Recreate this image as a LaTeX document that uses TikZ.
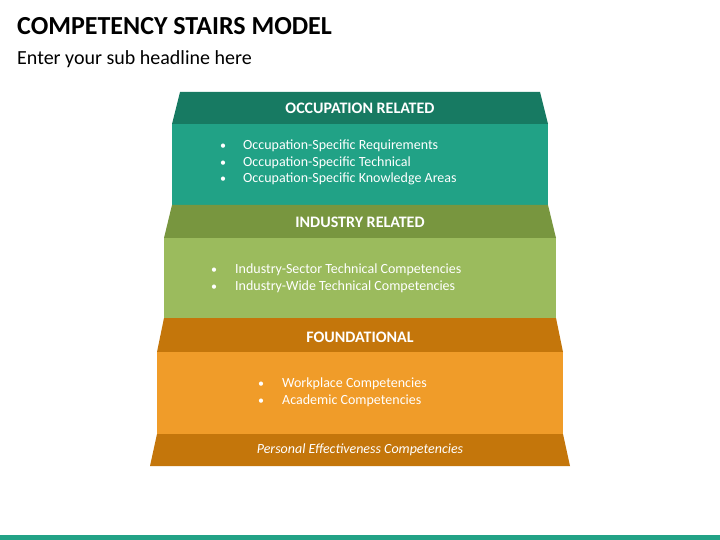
\documentclass[tikz,border=0pt]{standalone}
\usepackage{fontspec}
\setmainfont{Carlito}
\definecolor{tealD}{HTML}{177A62}
\definecolor{tealL}{HTML}{21A286}
\definecolor{greenD}{HTML}{78963F}
\definecolor{greenL}{HTML}{9BBB5D}
\definecolor{orangeD}{HTML}{C4760B}
\definecolor{orangeL}{HTML}{F09C29}
\definecolor{barcol}{HTML}{22A286}
\tikzset{
  hdr/.style={anchor=base, text=white, font=\fontsize{16}{19}\selectfont\bfseries, inner sep=0pt},
  item/.style={anchor=base west, text=white, font=\fontsize{14}{17}\selectfont, inner sep=0pt},
  dot/.style={anchor=base, text=white, font=\fontsize{12}{14}\selectfont, inner sep=0pt},
}
\begin{document}
\begin{tikzpicture}[x=1pt,y=-1pt]
\useasboundingbox (0,0) rectangle (720,540);
\fill[white] (0,0) rectangle (720,540);
% title
\node[anchor=base west, inner sep=0pt, font=\fontsize{26}{30}\selectfont\bfseries] (title) at (17,35) {COMPETENCY STAIRS MODEL};
\node[anchor=base west, inner sep=0pt, font=\fontsize{20}{24}\selectfont] (sub) at (17,65) {Enter your sub headline here};
% occupation
\fill[tealD] (180,92) -- (540,92) -- (548,124) -- (172,124) -- cycle;
\fill[tealL] (172,124) rectangle (548,205);
% industry
\fill[greenD] (172,205) -- (548,205) -- (556,238) -- (164,238) -- cycle;
\fill[greenL] (164,238) rectangle (556,318);
% foundational
\fill[orangeD] (164,318) -- (556,318) -- (563,352) -- (157,352) -- cycle;
\fill[orangeL] (157,352) rectangle (563,434);
\fill[orangeD] (157,434) -- (563,434) -- (570,466) -- (150,466) -- cycle;
% bottom bar
\fill[barcol] (0,535) rectangle (720,540);
% labels
\node[hdr] (h1) at (360,114) {OCCUPATION RELATED};
\node[hdr] (h2) at (360,227) {INDUSTRY RELATED};
\node[hdr] (h3) at (360,342) {FOUNDATIONAL};
% occupation items
\node[dot] (d11) at (223,150) {•};
\node[item] (t11) at (243,150) {Occupation-Specific Requirements};
\node[dot] (d12) at (223,167) {•};
\node[item] (t12) at (243,167) {Occupation-Specific Technical};
\node[dot] (d13) at (223,183) {•};
\node[item] (t13) at (243,183) {Occupation-Specific Knowledge Areas};
% industry items
\node[dot] (d21) at (214,273) {•};
\node[item] (t21) at (235,273) {Industry-Sector Technical Competencies};
\node[dot] (d22) at (214,290) {•};
\node[item] (t22) at (235,290) {Industry-Wide Technical Competencies};
% foundational items
\node[dot] (d31) at (261,387) {•};
\node[item] (t31) at (282,387) {Workplace Competencies};
\node[dot] (d32) at (261,404) {•};
\node[item] (t32) at (282,404) {Academic Competencies};
\node[anchor=base, text=white, inner sep=0pt, font=\fontsize{14}{17}\selectfont\itshape] (pe) at (360,453) {Personal Effectiveness Competencies};
\end{tikzpicture}
\end{document}
